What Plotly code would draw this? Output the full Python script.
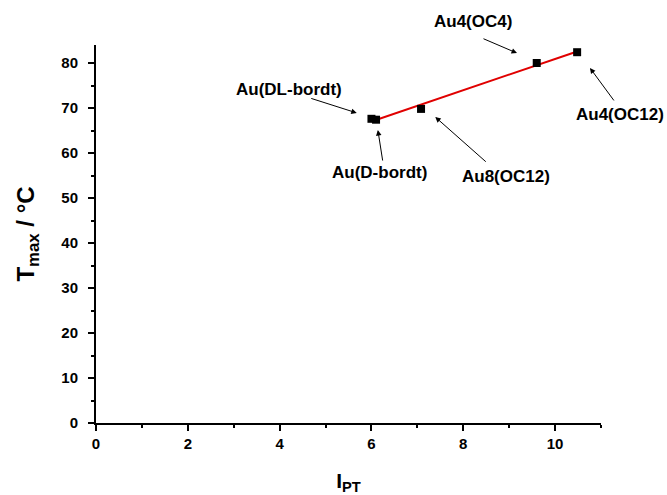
import numpy as np
import plotly.graph_objects as go

# Data
labels = ["Au(DL-bordt)", "Au(D-bordt)", "Au8(OC12)", "Au4(OC4)", "Au4(OC12)"]
ipt = [6.0, 6.1, 7.08, 9.6, 10.48]
tmax = [67.6, 67.4, 69.8, 80.0, 82.4]

x_ticks = [0, 2, 4, 6, 8, 10]
y_ticks = [0, 10, 20, 30, 40, 50, 60, 70, 80]

# linear fit
coef = np.polyfit(ipt, tmax, 1)
fit_x = np.array([min(ipt), max(ipt)])
fit_y = np.polyval(coef, fit_x)

fig = go.Figure()
fig.add_trace(go.Scatter(x=fit_x, y=fit_y, mode="lines",
                         line=dict(color="#e00000", width=2), showlegend=False))
fig.add_trace(go.Scatter(x=ipt, y=tmax, mode="markers",
                         marker=dict(symbol="square", size=8, color="black"),
                         showlegend=False))

FONT = "Liberation Sans, Arial"
font_b = dict(family=FONT, size=17, color="black")

# arrows: head in data coords, tail offset in px
arrow_specs = [
    (5.68, 68.9, -47, -15),
    (6.14, 65.1, 5, 32),
    (7.39, 68.0, 52, 46),
    (9.17, 82.2, -35, -15),
    (10.76, 78.9, 25, 34),
]
# label centres in paper fractions
text_pos = [
    (0.382, 0.881),
    (0.562, 0.664),
    (0.812, 0.653),
    (0.747, 1.061),
    (1.038, 0.815),
]
for (hx, hy, ax, ay) in arrow_specs:
    fig.add_annotation(x=hx, y=hy, ax=ax, ay=ay, text="", showarrow=True,
                       arrowhead=2, arrowsize=1.1, arrowwidth=1, arrowcolor="black")
for lab, (tx, ty) in zip(labels, text_pos):
    fig.add_annotation(x=tx, y=ty, xref="paper", yref="paper", text="<b>%s</b>" % lab,
                       showarrow=False, font=font_b, xanchor="center", yanchor="middle")

axis_common = dict(showline=True, linecolor="black", linewidth=2, ticks="outside",
                   ticklen=6, tickwidth=2, tickcolor="black", showgrid=False,
                   zeroline=False, automargin=False,
                   tickfont=dict(family=FONT, size=15, color="black"))

fig.update_xaxes(range=[0, 11], tickvals=x_ticks, ticktext=["<b>%d</b>" % v for v in x_ticks],
                 minor=dict(dtick=1, ticks="outside", ticklen=3, tickwidth=2, tickcolor="black"),
                 title=dict(text="<b>I<sub>PT</sub></b>", font=dict(family=FONT, size=21, color="black"), standoff=22),
                 **axis_common)
fig.update_yaxes(range=[0, 84], tickvals=y_ticks, ticktext=["<b>%d</b>" % v for v in y_ticks],
                 ticklabelstandoff=7,
                 minor=dict(dtick=5, ticks="outside", ticklen=3, tickwidth=2, tickcolor="black"),
                 title=dict(text="<b>T<sub>max</sub> / °C</b>", font=dict(family=FONT, size=24, color="black"), standoff=20),
                 **axis_common)

fig.update_layout(width=667, height=495, paper_bgcolor="white", plot_bgcolor="white",
                  margin=dict(l=96, r=66, t=45, b=72))

fig.write_html("out.html", config={"displayModeBar": False},
               post_script="document.body.style.margin='0';document.body.style.overflow='hidden';")
